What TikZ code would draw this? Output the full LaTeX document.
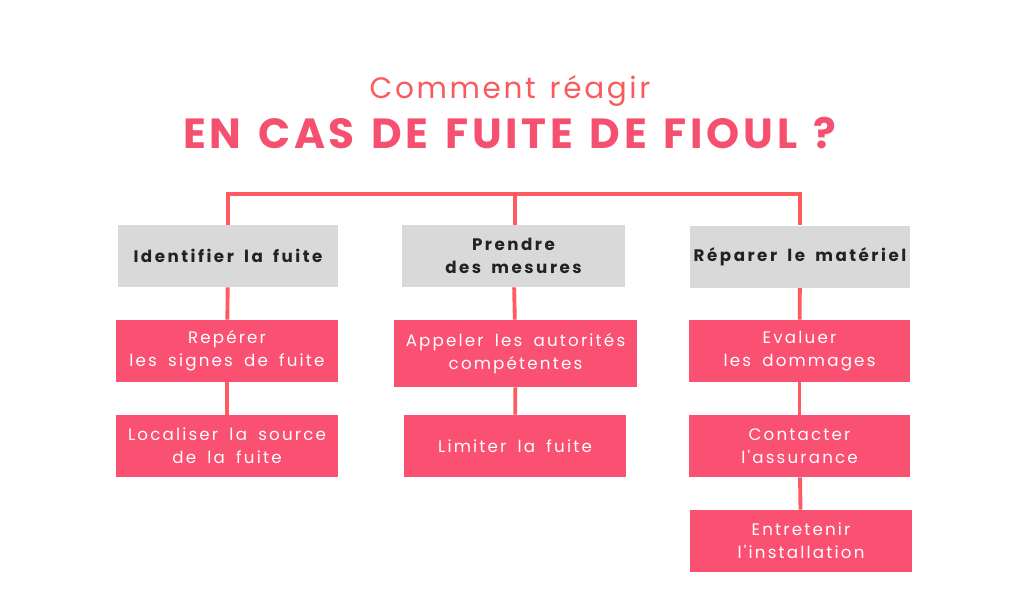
\documentclass[tikz,border=0pt]{standalone}
\usepackage{fontspec}
\setmainfont{Poppins}
\newfontfamily\headfont[LetterSpace=15, WordSpace=1.7]{Poppins}
\newfontfamily\stepfont[LetterSpace=13, WordSpace=1.7]{Poppins}
\newfontfamily\titlefont[LetterSpace=9, WordSpace=1.3]{Poppins}
\usetikzlibrary{positioning}
\definecolor{linered}{HTML}{FF5A5F}
\definecolor{boxpink}{HTML}{FA5072}
\definecolor{boxgrey}{HTML}{D9D9D9}
\definecolor{titlepink}{HTML}{F5506F}
\definecolor{titlecoral}{HTML}{FA5A5C}
\definecolor{darktext}{HTML}{222222}

\begin{document}
\begin{tikzpicture}[x=0.02cm, y=-0.02cm,
    headbox/.style={rectangle, fill=boxgrey, inner sep=1pt, minimum width=4.4cm, minimum height=1.24cm, align=center, text=darktext, font=\headfont\bfseries\fontsize{9.5}{13}\selectfont},
    stepbox/.style={rectangle, fill=boxpink, inner sep=1pt, minimum width=4.44cm, minimum height=1.24cm, align=center, text=white, font=\stepfont\fontsize{9.5}{13}\selectfont},
    link/.style={draw=linered, line width=2.2pt}
]
    \useasboundingbox (0,0) rectangle (1023,599);

    \node[text=titlecoral, font=\titlefont\fontsize{16.8}{18}\selectfont] (sub) at (510,91) {Comment réagir};
    \node[text=titlepink, font=\titlefont\bfseries\fontsize{24}{26}\selectfont] (title) at (510,133) {EN CAS DE FUITE DE FIOUL ?};

    \coordinate (top) at (515,194);

    % column headers
    \node[headbox] (ident) at (228,256) {Identifier la fuite};
    \node[headbox, minimum width=4.46cm] (prend) at (513.5,256) {Prendre\\des mesures};
    \node[headbox] (repar) at (800,256.5) {Réparer le matériel};

    % steps
    \node[stepbox] (reperer) at (227,351) {Repérer\\les signes de fuite};
    \node[stepbox] (local) at (227,446) {Localiser la source\\de la fuite};
    \node[stepbox, minimum width=4.86cm, minimum height=1.34cm] (appel) at (515.5,353.5) {Appeler les autorités\\compétentes};
    \node[stepbox] (limit) at (515,446) {Limiter la fuite};
    \node[stepbox] (evalu) at (799.5,351) {Evaluer\\les dommages};
    \node[stepbox] (contact) at (799.5,446) {Contacter\\l'assurance};
    \node[stepbox] (entret) at (801,541) {Entretenir\\l'installation};

    \draw[link] (ident.north) |- (top) -| (repar.north);
    \draw[link] (top) -- (top |- prend.north);
    \draw[link] (ident) -- (reperer);
    \draw[link] (reperer) -- (local);
    \draw[link] (prend) -- (appel);
    \draw[link] (appel) -- (limit);
    \draw[link] (repar) -- (evalu);
    \draw[link] (evalu) -- (contact);
    \draw[link] (contact) -- (entret);
\end{tikzpicture}
\end{document}
